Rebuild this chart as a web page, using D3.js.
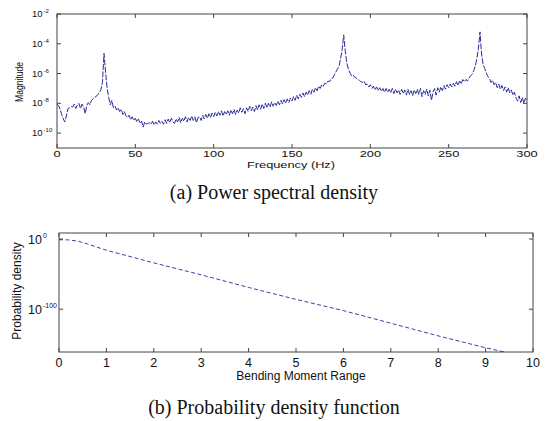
<!DOCTYPE html>
<html>
<head>
<meta charset="utf-8">
<script src="https://cdn.jsdelivr.net/npm/d3@7"></script>
<style>
  body { margin: 0; background: #fff; }
  text { font-family: "Liberation Sans", Arial, sans-serif; fill: #111; }
  .caption { font-family: "Liberation Serif", "Times New Roman", serif; font-size: 20px; }
</style>
</head>
<body>
<svg id="mainsvg"></svg>
<script>
// (a) power spectral density, log10 of magnitude at 1 Hz steps from 0 to 300 Hz
let psdStart = 0, psdStep = 1;
let psdLog = [
  -8.05,-8.15,-8.40,-8.75,-9.05,-9.25,-8.85,-8.35,-8.30,-8.20,
  -8.25,-8.05,-8.35,-8.10,-8.00,-8.35,-8.05,-8.25,-8.70,-8.15,
  -7.95,-8.10,-7.80,-7.70,-7.60,-7.55,-7.40,-7.30,-7.10,-6.60,
  -4.65,-5.90,-7.00,-7.60,-8.10,-7.80,-8.30,-8.20,-8.45,-8.30,
  -8.55,-8.40,-8.75,-8.55,-8.85,-8.95,-8.80,-9.10,-8.90,-9.15,
  -9.00,-9.25,-9.05,-9.35,-9.20,-9.60,-9.25,-9.40,-9.35,-9.30,
  -9.40,-9.20,-9.45,-9.25,-9.40,-9.15,-9.35,-9.20,-9.40,-9.10,
  -9.35,-9.05,-9.30,-9.00,-9.25,-9.35,-9.05,-9.25,-8.95,-9.30,
  -9.00,-9.20,-8.90,-9.25,-8.95,-9.15,-8.85,-9.15,-8.90,-9.30,
  -8.95,-8.90,-9.15,-8.80,-9.05,-8.75,-9.00,-8.70,-8.95,-8.65,
  -8.90,-8.60,-8.85,-8.55,-8.80,-8.50,-8.85,-8.55,-8.75,-8.50,
  -8.80,-8.45,-8.70,-8.40,-8.75,-8.45,-8.65,-8.30,-8.60,-8.35,
  -8.70,-8.30,-8.55,-8.20,-8.50,-8.25,-8.55,-8.15,-8.45,-8.10,
  -8.40,-8.05,-8.35,-8.00,-8.30,-8.00,-8.25,-7.90,-8.20,-7.95,
  -8.15,-7.85,-8.10,-7.80,-8.05,-7.75,-8.00,-7.70,-7.95,-7.65,
  -7.85,-7.55,-7.80,-7.45,-7.70,-7.40,-7.60,-7.30,-7.55,-7.25,
  -7.45,-7.15,-7.40,-7.05,-7.25,-6.95,-7.15,-6.85,-7.00,-6.75,
  -6.85,-6.65,-6.70,-6.50,-6.55,-6.35,-6.30,-6.10,-5.90,-5.70,
  -5.50,-5.00,-4.40,-3.40,-4.50,-5.30,-5.70,-5.95,-6.15,-6.10,
  -6.25,-6.30,-6.40,-6.45,-6.55,-6.60,-6.50,-6.75,-6.70,-6.90,
  -6.75,-7.00,-6.85,-7.10,-6.90,-7.15,-6.95,-7.20,-7.00,-7.25,
  -7.00,-7.25,-7.05,-7.30,-7.00,-7.35,-7.05,-7.30,-7.10,-7.40,
  -7.05,-7.35,-7.10,-7.45,-7.05,-7.40,-7.15,-7.50,-7.10,-7.35,
  -7.05,-7.40,-7.00,-7.55,-7.15,-7.40,-7.05,-7.50,-7.10,-7.80,
  -7.25,-7.00,-7.45,-6.95,-7.25,-6.90,-7.15,-6.80,-7.05,-6.75,
  -6.95,-6.70,-6.90,-6.65,-6.85,-6.55,-6.80,-6.50,-6.70,-6.40,
  -6.55,-6.40,-6.50,-6.30,-6.15,-6.05,-5.80,-5.50,-5.00,-4.30,
  -3.20,-4.70,-5.40,-5.65,-5.95,-6.20,-6.30,-6.60,-6.45,-6.75,
  -6.60,-6.95,-6.70,-7.05,-6.80,-7.15,-6.90,-7.25,-6.95,-7.30,
  -7.10,-7.45,-7.25,-7.65,-7.85,-7.50,-7.95,-7.60,-8.00,-7.65,
  -7.80
];
let psdXTicks = [0, 50, 100, 150, 200, 250, 300];
let psdYExp = [-2, -4, -6, -8, -10];

// (b) probability density, log10 of density vs bending moment range
let pdfX =   [0, 0.2, 0.4, 0.6, 1, 2, 3, 4, 5, 6, 7, 8, 9, 9.4];
let pdfLog = [-1, -1.2, -3, -7, -16, -34, -51, -69, -86, -102, -120, -138, -155, -161];
let pdfXTicks = [0, 1, 2, 3, 4, 5, 6, 7, 8, 9, 10];
let pdfYExp = [0, -100];

let svgWidth = 545, svgHeight = 421,
    lineColor = "#2a2a9a",
    boxColor = "#444";
let mainsvg = d3.select("#mainsvg").attr("width", svgWidth).attr("height", svgHeight);

// ---------- panel a ----------
let a = {left: 57, right: 527, top: 14, bottom: 148};
let xA = d3.scaleLinear().domain([0, 300]).range([a.left, a.right]);
let yA = d3.scaleLog().domain([1e-11, 1e-2]).range([a.bottom, a.top]);
let gA = mainsvg.append("g");

gA.append("rect").attr("x", a.left).attr("y", a.top)
  .attr("width", a.right - a.left).attr("height", a.bottom - a.top)
  .attr("fill", "none").attr("stroke", boxColor).attr("stroke-width", 1);

psdXTicks.forEach(t => {
  gA.append("line").attr("x1", xA(t)).attr("x2", xA(t)).attr("y1", a.bottom).attr("y2", a.bottom - 4).attr("stroke", boxColor);
  gA.append("line").attr("x1", xA(t)).attr("x2", xA(t)).attr("y1", a.top).attr("y2", a.top + 4).attr("stroke", boxColor);
});
psdYExp.forEach(e => {
  gA.append("line").attr("x1", a.left).attr("x2", a.left + 4).attr("y1", yA(Math.pow(10, e))).attr("y2", yA(Math.pow(10, e))).attr("stroke", boxColor);
  gA.append("line").attr("x1", a.right).attr("x2", a.right - 4).attr("y1", yA(Math.pow(10, e))).attr("y2", yA(Math.pow(10, e))).attr("stroke", boxColor);
});

gA.append("g").selectAll("text").data(psdXTicks).enter().append("text")
  .attr("transform", d => `translate(${xA(d)},156.5) scale(1.35,1)`)
  .attr("text-anchor", "middle").attr("font-size", 9.5).text(d => d);

let yLabA = gA.append("g").selectAll("text").data(psdYExp).enter().append("text")
  .attr("x", 32).attr("y", d => yA(Math.pow(10, d)) + 3).attr("font-size", 9.5);
yLabA.append("tspan").text("10");
yLabA.append("tspan").attr("dy", -4).attr("font-size", 6).attr("dx", 1).text(d => d);

gA.append("text").attr("x", 291).attr("y", 168).attr("text-anchor", "middle")
  .attr("font-size", 9).attr("textLength", 88).attr("lengthAdjust", "spacingAndGlyphs")
  .text("Frequency (Hz)");
gA.append("text").attr("transform", "translate(23,82) rotate(-90)").attr("text-anchor", "middle")
  .attr("font-size", 11).attr("textLength", 40).attr("lengthAdjust", "spacingAndGlyphs")
  .text("Magnitude");

let lineA = d3.line()
  .x((d, i) => xA(psdStart + i * psdStep))
  .y(d => yA(Math.pow(10, d)));
gA.append("path").datum(psdLog).attr("d", lineA)
  .attr("fill", "none").attr("stroke", lineColor).attr("stroke-width", 1)
  .attr("stroke-dasharray", "6,1.5");

mainsvg.append("text").attr("class", "caption").attr("x", 274).attr("y", 199)
  .attr("text-anchor", "middle").text("(a) Power spectral density");

// ---------- panel b ----------
let b = {left: 59, right: 533, top: 233, bottom: 352};
let xB = d3.scaleLinear().domain([0, 10]).range([b.left, b.right]);
let yB = d3.scaleLog().domain([1e-161, Math.pow(10, 8.6)]).range([b.bottom, b.top]);
let gB = mainsvg.append("g");

gB.append("rect").attr("x", b.left).attr("y", b.top)
  .attr("width", b.right - b.left).attr("height", b.bottom - b.top)
  .attr("fill", "none").attr("stroke", boxColor).attr("stroke-width", 1);

pdfXTicks.forEach(t => {
  gB.append("line").attr("x1", xB(t)).attr("x2", xB(t)).attr("y1", b.bottom).attr("y2", b.bottom - 4).attr("stroke", boxColor);
  gB.append("line").attr("x1", xB(t)).attr("x2", xB(t)).attr("y1", b.top).attr("y2", b.top + 4).attr("stroke", boxColor);
});
pdfYExp.forEach(e => {
  gB.append("line").attr("x1", b.left).attr("x2", b.left + 4).attr("y1", yB(Math.pow(10, e))).attr("y2", yB(Math.pow(10, e))).attr("stroke", boxColor);
  gB.append("line").attr("x1", b.right).attr("x2", b.right - 4).attr("y1", yB(Math.pow(10, e))).attr("y2", yB(Math.pow(10, e))).attr("stroke", boxColor);
});

gB.append("g").selectAll("text").data(pdfXTicks).enter().append("text")
  .attr("x", d => xB(d)).attr("y", 367)
  .attr("text-anchor", "middle").attr("font-size", 12.5).text(d => d);

let yLabB = gB.append("g").selectAll("text").data(pdfYExp).enter().append("text")
  .attr("x", 28).attr("y", d => yB(Math.pow(10, d)) + 5).attr("font-size", 12.5);
yLabB.append("tspan").text("10");
yLabB.append("tspan").attr("dy", -6).attr("font-size", 7).attr("dx", 1).text(d => d);

gB.append("text").attr("x", 301).attr("y", 380).attr("text-anchor", "middle")
  .attr("font-size", 12).text("Bending Moment Range");
gB.append("text").attr("transform", "translate(21,291) rotate(-90)").attr("text-anchor", "middle")
  .attr("font-size", 12).text("Probability density");

let lineB = d3.line()
  .x((d, i) => xB(pdfX[i]))
  .y(d => yB(Math.pow(10, d)));
gB.append("path").datum(pdfLog).attr("d", lineB)
  .attr("fill", "none").attr("stroke", lineColor).attr("stroke-width", 0.9)
  .attr("stroke-dasharray", "4,2.5");

mainsvg.append("text").attr("class", "caption").attr("x", 274).attr("y", 414)
  .attr("text-anchor", "middle").text("(b) Probability density function");
</script>
</body>
</html>
